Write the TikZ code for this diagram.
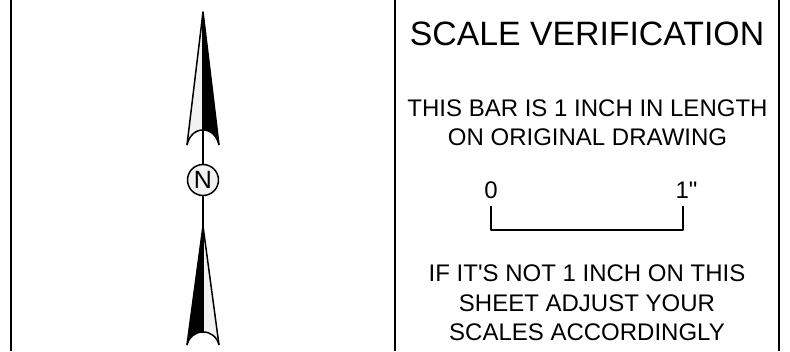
\documentclass[tikz,border=0pt]{standalone}
\usepackage{fontspec}
\newfontfamily\drawfont{Liberation Sans}
\definecolor{paleg}{HTML}{F2F2F2}
\tikzset{
  x=1pt,y=1pt,
  rule/.style={line width=2pt,draw=black},
  thin rule/.style={line width=1.5pt,draw=black},
  big text/.style={font=\drawfont\fontsize{33.8}{38}\selectfont,anchor=base,inner sep=0pt},
  small text/.style={font=\drawfont\fontsize{24}{28}\selectfont,anchor=base,inner sep=0pt},
  north mark/.style={circle,draw=black,line width=1.5pt,fill=paleg,minimum size=31pt,inner sep=0pt,font=\drawfont\fontsize{25}{28}\selectfont}
}
\begin{document}
\begin{tikzpicture}[line join=round]
\useasboundingbox (0,0) rectangle (790,-351);
\fill[white] (0,0) rectangle (790,-351);
% frame lines
\draw[rule] (11,0) -- (11,-351);
\draw[rule] (394.5,0) -- (394.5,-351);
\draw[rule] (779,0) -- (779,-351);
% north arrow
\coordinate (uptip) at (203,-12);
\coordinate (upL) at (187,-145);
\coordinate (upR) at (219,-145);
\coordinate (upC) at (203,-130);
\coordinate (lotip) at (203,-226);
\coordinate (loL) at (187,-345);
\coordinate (loR) at (219,-345);
\coordinate (loC) at (203,-332);
\node[north mark] (N) at (203,-180) {N};
\fill[paleg] (uptip) -- (upL) .. controls (189,-136) and (195,-130) .. (upC) -- cycle;
\fill[black] (uptip) -- (upR) .. controls (217,-136) and (211,-130) .. (upC) -- cycle;
\draw[thin rule] (upL) -- (uptip) -- (upR);
\draw[thin rule] (upL) .. controls (189,-136) and (195,-130) .. (upC) .. controls (211,-130) and (217,-136) .. (upR);
\fill[black] (lotip) -- (loL) .. controls (189,-337) and (195,-332) .. (loC) -- cycle;
\fill[paleg] (lotip) -- (loR) .. controls (217,-337) and (211,-332) .. (loC) -- cycle;
\draw[thin rule] (loL) -- (lotip) -- (loR);
\draw[thin rule] (loL) .. controls (189,-337) and (195,-332) .. (loC) .. controls (211,-332) and (217,-337) .. (loR);
\draw[thin rule] (uptip) -- (N.north);
\draw[thin rule] (N.south) -- (lotip);
\draw[thin rule] (lotip) -- (loC);
% text
\node[big text] (title) at (587,-45) {SCALE VERIFICATION};
\node[small text] (l1) at (587.5,-116) {THIS BAR IS 1 INCH IN LENGTH};
\node[small text] (l2) at (587.5,-145) {ON ORIGINAL DRAWING};
\node[small text] (zero) at (491,-198) {0};
\node[small text] (one) at (686.5,-198) {1"};
\node[small text] (l3) at (587,-281) {IF IT'S NOT 1 INCH ON THIS};
\node[small text] (l4) at (587,-311) {SHEET ADJUST YOUR};
\node[small text] (l5) at (587,-340) {SCALES ACCORDINGLY};
% scale bar
\coordinate (barL) at (491,-206);
\coordinate (barR) at (683,-206);
\draw[thin rule] (barL) -- (491,-230) -- (683,-230) -- (barR);
\end{tikzpicture}
\end{document}
